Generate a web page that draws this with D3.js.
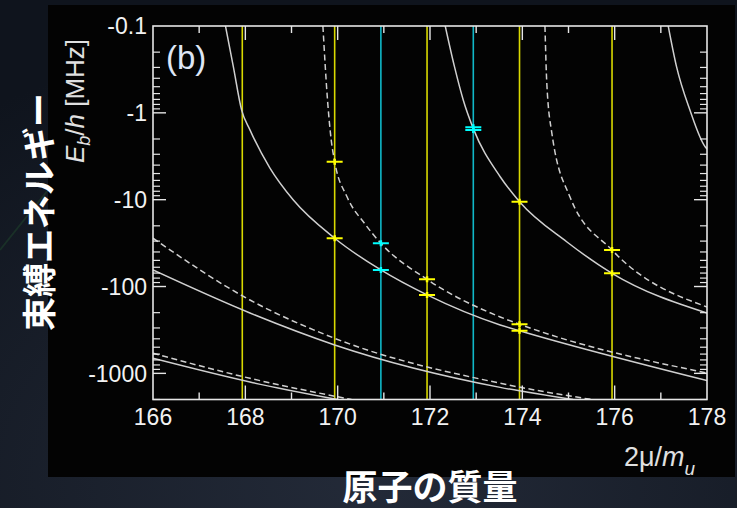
<!DOCTYPE html>
<html>
<head>
<meta charset="utf-8">
<script src="https://cdn.jsdelivr.net/npm/d3@7"></script>
<style>
  html, body { margin: 0; padding: 0; background: #131923; overflow: hidden; }
  svg { display: block; }
</style>
</head>
<body>
<svg id="chart" width="737" height="508"></svg>
<script>
// Yb isotopes: 2μ/m_u of the homonuclear dimer equals the atomic mass
const isotopeMass = [167.934, 169.935, 170.936, 171.936, 172.938, 173.939, 175.943];
const isotopeKind = ["boson", "boson", "fermion", "boson", "fermion", "boson", "boson"];

// Measured bound-state energies E_b/h [MHz]
const levelMass   = [169.935, 169.935, 170.936, 170.936, 171.936, 171.936, 172.938, 172.938, 173.939, 173.939, 173.939, 175.943, 175.943];
const levelEnergy = [-3.65,   -27.8,   -31.8,   -64.5,   -82.6,   -125,    -1.47,   -1.58,   -10.55,  -272,    -323,    -38,     -70.4];
const levelKind   = ["boson", "boson", "fermion", "fermion", "boson", "boson", "fermion", "fermion", "boson", "boson", "boson", "boson", "boson"];

// Calculated vibrational levels (solid: l = 0, dashed: l = 2)
const curveA_mass = [167.57, 167.74, 167.92, 168.10, 168.53, 169.04, 169.935, 170.936, 171.936, 173.52, 173.939, 178.0];
const curveA_E    = [-0.1,   -0.294, -0.93,  -1.57,  -4.3,   -10.1,  -27.8,   -64.5,   -125,    -277,   -323,    -1210];
const curveA2_mass = [169.68, 169.78, 169.86, 169.935, 170.20, 170.59, 170.936, 171.936, 173.52, 173.939, 178.0];
const curveA2_E    = [-0.1,   -0.71,  -2.05,  -3.65,   -9.2,   -19.0,  -31.8,   -82.6,   -224,   -272,    -990];
const curveB_mass = [172.33, 172.53, 172.72, 172.938, 173.52, 173.939, 174.96, 175.943, 178.0];
const curveB_E    = [-0.1,   -0.294, -0.71,  -1.52,   -5.44,  -10.55,  -30.5,  -70.4,   -202];
const curveB2_mass = [174.49, 174.53, 174.64, 175.03, 175.943, 178.0];
const curveB2_E    = [-0.1,   -0.457, -1.72,  -9.24,  -38,     -172];
const curveC_mass = [177.16, 177.34, 177.63, 177.96, 178.0];
const curveC_E    = [-0.1,   -0.294, -0.93,  -2.46,  -2.6];
const curveD_mass = [166.0, 168.10, 169.935, 173.52, 175.10];
const curveD_E    = [-64.6, -202,   -471,    -1450,  -2000];
const curveD2_mass = [166.0, 168.10, 169.935, 173.52, 175.50];
const curveD2_E    = [-27.8, -143,   -395,    -1300,  -2000];
const curveE_mass = [166.0, 168.10, 170.00];
const curveE_E    = [-671,  -1258,  -2000];
const curveE2_mass = [166.0, 168.10, 170.30];
const curveE2_E    = [-587,  -1140,  -2000];

const yTickValues = [-0.1, -1, -10, -100, -1000];
const yTickLabels = ["-0.1", "-1", "-10", "-100", "-1000"];
const xTickValues = d3.range(166, 179);
const xTickLabels = ["166", "168", "170", "172", "174", "176", "178"];

const curves = [
  { mass: curveE_mass,  E: curveE_E,  dashed: false },
  { mass: curveE2_mass, E: curveE2_E, dashed: true },
  { mass: curveD_mass,  E: curveD_E,  dashed: false },
  { mass: curveD2_mass, E: curveD2_E, dashed: true },
  { mass: curveA_mass,  E: curveA_E,  dashed: false },
  { mass: curveA2_mass, E: curveA2_E, dashed: true },
  { mass: curveB_mass,  E: curveB_E,  dashed: false },
  { mass: curveB2_mass, E: curveB2_E, dashed: true },
  { mass: curveC_mass,  E: curveC_E,  dashed: false }
];

const svg = d3.select("#chart");
const W = 737, H = 508;
const plot = { left: 153, right: 707, top: 26, bottom: 399.5 };

// backdrop
const defs = svg.append("defs");
const bg = defs.append("radialGradient").attr("id", "bgGrad")
  .attr("cx", "50%").attr("cy", "95%").attr("r", "90%");
bg.append("stop").attr("offset", "0%").attr("stop-color", "#232a38");
bg.append("stop").attr("offset", "100%").attr("stop-color", "#0f141d");
svg.append("rect").attr("width", W).attr("height", H).attr("fill", "url(#bgGrad)");
svg.append("line").attr("x1", 0).attr("y1", 250).attr("x2", 48).attr("y2", 190)
  .attr("stroke", "#1d3a2a").attr("stroke-width", 2).attr("opacity", 0.7);

// black panel
svg.append("rect").attr("x", 48).attr("y", 5).attr("width", 687).attr("height", 472).attr("fill", "#030303");

defs.append("clipPath").attr("id", "plotClip").append("rect")
  .attr("x", plot.left).attr("y", plot.top)
  .attr("width", plot.right - plot.left).attr("height", plot.bottom - plot.top);

const x = d3.scaleLinear().domain([166, 178]).range([plot.left, plot.right]);
const y = d3.scaleLog().domain([-0.1, -2000]).range([plot.top, plot.bottom]);

const g = svg.append("g").attr("clip-path", "url(#plotClip)");

// isotope lines
g.selectAll("line.iso").data(isotopeMass).join("line")
  .attr("class", "iso")
  .attr("x1", d => x(d)).attr("x2", d => x(d))
  .attr("y1", plot.top).attr("y2", plot.bottom)
  .attr("stroke", (d, i) => isotopeKind[i] === "boson" ? "#d9d900" : "#10b8c8")
  .attr("stroke-width", 1.6);

// calculated levels
const line = d3.line().x(d => x(d[0])).y(d => y(d[1])).curve(d3.curveMonotoneX);
g.selectAll("path.level").data(curves).join("path")
  .attr("class", "level")
  .attr("d", c => line(c.mass.map((m, i) => [m, c.E[i]])))
  .attr("fill", "none")
  .attr("stroke", "#cfcfcf")
  .attr("stroke-width", 1.5)
  .attr("stroke-dasharray", c => c.dashed ? "6,3.5" : null);

// measured levels
const levels = levelMass.map((m, i) => ({ m, e: levelEnergy[i], k: levelKind[i] }));
const mk = g.selectAll("g.mk").data(levels).join("g").attr("class", "mk")
  .attr("transform", d => `translate(${x(d.m)},${y(d.e)})`);
mk.append("line").attr("x1", -8).attr("x2", 8).attr("y1", 0).attr("y2", 0)
  .attr("stroke", d => d.k === "boson" ? "#ffff00" : "#00ffff").attr("stroke-width", 2);
mk.append("line").attr("x1", 0).attr("x2", 0).attr("y1", -3).attr("y2", 3)
  .attr("stroke", d => d.k === "boson" ? "#ffff00" : "#00ffff").attr("stroke-width", 2.5);

// frame
svg.append("rect").attr("x", plot.left).attr("y", plot.top)
  .attr("width", plot.right - plot.left).attr("height", plot.bottom - plot.top)
  .attr("fill", "none").attr("stroke", "#e6e6e6").attr("stroke-width", 1.6);

// x ticks (inward, top and bottom)
const tickCol = "#e6e6e6";
const xt = svg.append("g");
xTickValues.forEach(v => {
  const len = v % 2 === 0 ? 14 : 7;
  if (v === 166 || v === 178) return;
  xt.append("line").attr("x1", x(v)).attr("x2", x(v)).attr("y1", plot.bottom).attr("y2", plot.bottom - len)
    .attr("stroke", tickCol).attr("stroke-width", 1.4);
  xt.append("line").attr("x1", x(v)).attr("x2", x(v)).attr("y1", plot.top).attr("y2", plot.top + len)
    .attr("stroke", tickCol).attr("stroke-width", 1.4);
});

// y ticks (inward, left and right)
const yt = svg.append("g");
const yMinor = [];
[-0.1, -1, -10, -100, -1000].forEach(dec => {
  for (let k = 2; k <= 9; k++) { const v = dec * k; if (v >= -2000) yMinor.push(v); }
});
yTickValues.forEach(v => {
  if (v === -0.1) return;
  yt.append("line").attr("x1", plot.left).attr("x2", plot.left + 13).attr("y1", y(v)).attr("y2", y(v))
    .attr("stroke", tickCol).attr("stroke-width", 1.4);
  yt.append("line").attr("x1", plot.right).attr("x2", plot.right - 13).attr("y1", y(v)).attr("y2", y(v))
    .attr("stroke", tickCol).attr("stroke-width", 1.4);
});
yMinor.forEach(v => {
  yt.append("line").attr("x1", plot.left).attr("x2", plot.left + 7).attr("y1", y(v)).attr("y2", y(v))
    .attr("stroke", tickCol).attr("stroke-width", 1.2);
  yt.append("line").attr("x1", plot.right).attr("x2", plot.right - 7).attr("y1", y(v)).attr("y2", y(v))
    .attr("stroke", tickCol).attr("stroke-width", 1.2);
});

const labelFont = "'Liberation Sans', Arial, sans-serif";

// y tick labels
svg.append("g").selectAll("text").data(yTickValues).join("text")
  .attr("x", 147).attr("y", d => y(d))
  .attr("dy", "0.36em")
  .attr("text-anchor", "end")
  .attr("font-family", labelFont).attr("font-size", 23)
  .attr("fill", "#f2f2f2")
  .text((d, i) => yTickLabels[i]);

// x tick labels
svg.append("g").selectAll("text").data(xTickLabels).join("text")
  .attr("x", d => x(+d)).attr("y", 425)
  .attr("text-anchor", "middle")
  .attr("font-family", labelFont).attr("font-size", 23)
  .attr("fill", "#f2f2f2")
  .text(d => d);

// panel tag
svg.append("text").attr("x", 166).attr("y", 69)
  .attr("font-family", labelFont).attr("font-size", 33)
  .attr("fill", "#dfe6f5").text("(b)");

// y axis title
const yTitle = svg.append("text")
  .attr("transform", "translate(84,101) rotate(-90)")
  .attr("text-anchor", "middle")
  .attr("font-family", labelFont).attr("font-size", 26)
  .attr("fill", "#e0e0e0");
yTitle.append("tspan").attr("font-style", "italic").text("E");
yTitle.append("tspan").attr("font-style", "italic").attr("font-size", 18).attr("dy", 6).text("b");
yTitle.append("tspan").attr("dy", -6).text("/");
yTitle.append("tspan").attr("font-style", "italic").text("h");
yTitle.append("tspan").text(" [MHz]");

// x axis title
const xTitle = svg.append("text")
  .attr("x", 624).attr("y", 466)
  .attr("font-family", labelFont).attr("font-size", 27)
  .attr("fill", "#e0e0e0");
xTitle.append("tspan").text("2μ/");
xTitle.append("tspan").attr("font-style", "italic").text("m");
xTitle.append("tspan").attr("font-style", "italic").attr("font-size", 19).attr("dy", 9).text("u");

// Japanese captions
const jpFont = "'Noto Sans CJK JP', 'Noto Sans CJK SC', sans-serif";
svg.append("text")
  .attr("transform", "translate(52,212) rotate(-90)")
  .attr("text-anchor", "middle")
  .attr("font-family", jpFont).attr("font-weight", 700).attr("font-size", 34)
  .attr("fill", "#ffffff")
  .text("束縛エネルギー");
svg.append("text")
  .attr("x", 430).attr("y", 500)
  .attr("text-anchor", "middle")
  .attr("font-family", jpFont).attr("font-weight", 700).attr("font-size", 35)
  .attr("fill", "#ffffff")
  .text("原子の質量");
</script>
</body>
</html>
